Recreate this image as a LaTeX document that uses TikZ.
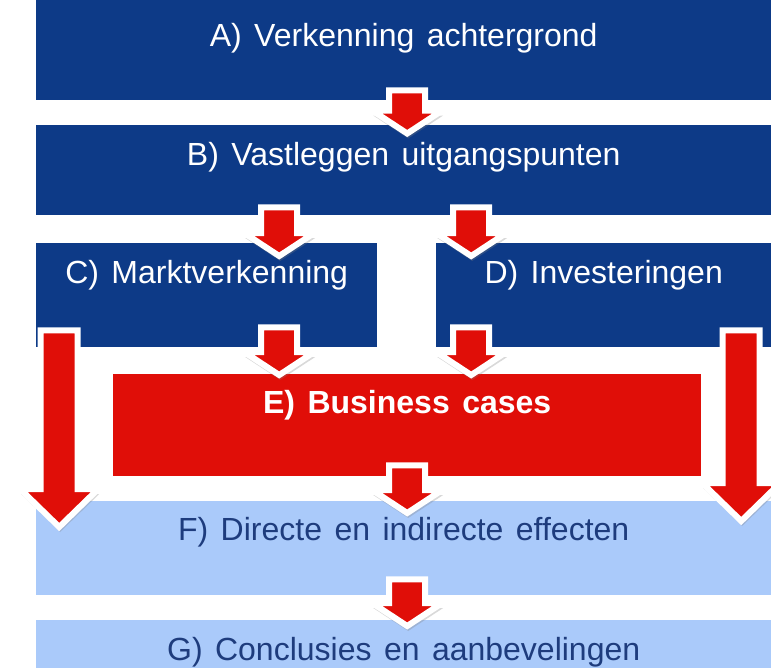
\documentclass[tikz,border=0pt]{standalone}
\usepackage{fontspec}
\setmainfont{Liberation Sans}[WordSpace=1.4]
\usetikzlibrary{calc,shadows}
\definecolor{donkerblauw}{HTML}{0D3A87}
\definecolor{rood}{HTML}{E00E08}
\definecolor{lichtblauw}{HTML}{AACAFA}
\definecolor{tekstblauw}{HTML}{1E3C7D}
\tikzset{
  blok/.style={rectangle, inner sep=0pt, anchor=north west, text height=40pt,
    font=\fontsize{32}{38}\selectfont},
  donker/.style={blok, fill=donkerblauw, text=white},
  licht/.style={blok, fill=lichtblauw, text=tekstblauw},
  pijl/.style n args={3}{fill=rood, draw=white, line width=6pt, miter limit=20,
    drop shadow={shadow xshift=1pt, shadow yshift=-5pt, opacity=.3},
    to path={let \p1=(\tikztostart), \p2=(\tikztotarget) in
      (\x1-#1,\y1) -- (\x1-#1,\y2+#3) -- (\x1-#2,\y2+#3) -- (\x1,\y2)
      -- (\x1+#2,\y2+#3) -- (\x1+#1,\y2+#3) -- (\x1+#1,\y1) -- cycle}},
  kortepijl/.style={pijl={18pt}{35pt}{23pt}},
  langepijl/.style={pijl={18.5pt}{39pt}{38pt}}
}
\begin{document}
\begin{tikzpicture}[x=1pt, y=-1pt]
  \useasboundingbox (0,0) rectangle (771,667);
  % Blokken
  \node[donker, minimum width=735pt, text height=46pt, text depth=54pt] (A) at (36,0) {A) Verkenning achtergrond};
  \node[donker, minimum width=735pt, text depth=50pt] (B) at (36,125) {B) Vastleggen uitgangspunten};
  \node[donker, minimum width=341pt, text depth=64pt] (C) at (36,243) {C) Marktverkenning};
  \node[donker, minimum width=335pt, text depth=64pt] (D) at (436,243) {D) Investeringen};
  \node[blok, fill=rood, text=white, minimum width=588pt, text height=39pt, text depth=63pt,
    font=\fontsize{32}{38}\selectfont\bfseries] (E) at (113,374) {E) Business cases};
  \node[licht, minimum width=735pt, text height=39pt, text depth=55pt] (F) at (36,501) {F) Directe en indirecte effecten};
  \node[licht, minimum width=735pt, text depth=20pt] (G) at (36,620) {G) Conclusies en aanbevelingen};

  % Pijlen
  \draw[kortepijl] ([xshift=3.5pt,yshift=10pt]A.south) to ([yshift=-8.5pt]B.north);
  \draw[kortepijl] ([xshift=-124.5pt,yshift=8pt]B.south) to ([yshift=-13pt]C.north);
  \draw[kortepijl] ([xshift=67.5pt,yshift=8pt]B.south) to ([yshift=-13pt]D.north);
  \draw[kortepijl] ([xshift=72.5pt,yshift=20pt]C.south) to ([yshift=-1pt]E.north);
  \draw[kortepijl] ([xshift=-132.5pt,yshift=20pt]D.south) to ([yshift=-1pt]E.north);
  \draw[kortepijl] ([yshift=11pt]E.south) to ([yshift=-12pt]F.north);
  \draw[kortepijl] ([xshift=3.5pt,yshift=16pt]F.south) to ([yshift=-6pt]G.north);
  \draw[langepijl] ([xshift=-147.5pt,yshift=17pt]C.south) to ([yshift=-26pt]F.north);
  \draw[langepijl] ([xshift=137.5pt,yshift=17pt]D.south) to ([yshift=-20pt]F.north);
\end{tikzpicture}
\end{document}
